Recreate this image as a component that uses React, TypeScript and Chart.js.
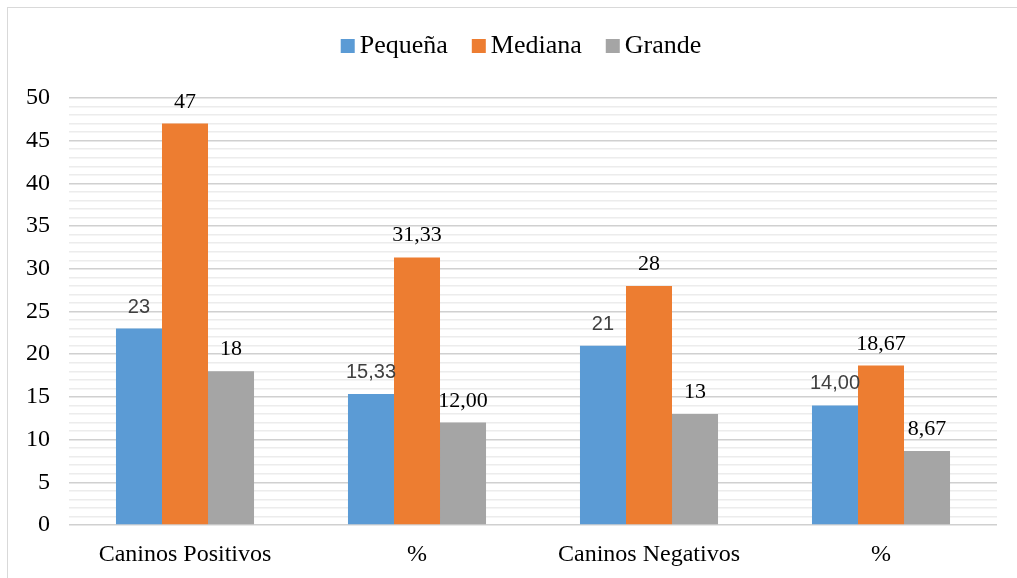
import React, { useEffect, useRef } from "react";
import { Chart, registerables } from "chart.js";

Chart.register(...registerables);

const categories = ["Caninos Positivos", "%", "Caninos Negativos", "%"];
const seriesNames = ["Pequeña", "Mediana", "Grande"];
const pequena = [23, 15.33, 21, 14.0];
const mediana = [47, 31.33, 28, 18.67];
const grande = [18, 12.0, 13, 8.67];
const valueLabels = [
  ["23", "15,33", "21", "14,00"],
  ["47", "31,33", "28", "18,67"],
  ["18", "12,00", "13", "8,67"],
];
const colors = ["#5B9BD5", "#ED7D31", "#A5A5A5"];
const yMin = 0;
const yMax = 50;

const SERIF = "'Liberation Serif', 'Times New Roman', serif";
const SANS = "'Liberation Sans', Arial, sans-serif";

// Writes each bar's value above it; the first series uses a sans face in dark grey.
const valueLabelPlugin = {
  id: "valueLabels",
  afterDatasetsDraw(chart: any) {
    const ctx = chart.ctx;
    ctx.save();
    ctx.textAlign = "center";
    ctx.textBaseline = "alphabetic";
    chart.data.datasets.forEach((_: any, di: number) => {
      const meta = chart.getDatasetMeta(di);
      meta.data.forEach((bar: any, i: number) => {
        if (di === 0) {
          ctx.font = `20px ${SANS}`;
          ctx.fillStyle = "#404040";
        } else {
          ctx.font = `22px ${SERIF}`;
          ctx.fillStyle = "#000000";
        }
        ctx.fillText(valueLabels[di][i], bar.x, bar.y - 16);
      });
    });
    ctx.restore();
  },
};

// Legend row of square swatches drawn across the top.
const legendPlugin = {
  id: "squareLegend",
  afterDraw(chart: any) {
    const ctx = chart.ctx;
    ctx.save();
    ctx.font = `26px ${SERIF}`;
    ctx.textBaseline = "alphabetic";
    ctx.textAlign = "left";
    const box = 14;
    const gap = 5;
    const itemGap = 24;
    const widths = seriesNames.map((n) => box + gap + ctx.measureText(n).width);
    const total = widths.reduce((a, b) => a + b, 0) + itemGap * (seriesNames.length - 1);
    let x = 521 - total / 2;
    const baseline = 53;
    seriesNames.forEach((name, i) => {
      ctx.fillStyle = colors[i];
      ctx.fillRect(x, baseline - box, box, box);
      ctx.fillStyle = "#000000";
      ctx.fillText(name, x + box + gap, baseline);
      x += widths[i] + itemGap;
    });
    ctx.restore();
  },
};

function BarChart() {
  const canvasRef = useRef<HTMLCanvasElement | null>(null);

  useEffect(() => {
    if (!canvasRef.current) return;
    const chart = new Chart(canvasRef.current, {
      type: "bar",
      data: {
        labels: categories,
        datasets: [pequena, mediana, grande].map((d, i) => ({
          label: seriesNames[i],
          data: d,
          backgroundColor: colors[i],
          borderWidth: 0,
          categoryPercentage: 0.595,
          barPercentage: 1,
        })),
      },
      options: {
        animation: false,
        responsive: false,
        maintainAspectRatio: false,
        layout: { padding: { top: 98, right: 20, bottom: 0, left: 0 } },
        plugins: {
          legend: { display: false },
          tooltip: { enabled: false },
        },
        scales: {
          x: {
            grid: { display: false, drawTicks: false },
            border: { display: false },
            ticks: {
              font: { family: SERIF, size: 24 },
              color: "#000000",
              padding: 15,
              maxRotation: 0,
            },
            afterFit(scale: any) {
              scale.height = 53;
            },
          },
          y: {
            min: yMin,
            max: yMax,
            grid: {
              drawTicks: false,
              color: (c: any) => (c.tick && c.tick.value % 5 === 0 ? "#d0d0d0" : "#ececec"),
              lineWidth: 1.5,
            },
            border: { display: false },
            ticks: {
              stepSize: 1,
              autoSkip: false,
              font: { family: SERIF, size: 24 },
              color: "#000000",
              padding: 19,
              callback: (v: any) => (Number(v) % 5 === 0 ? String(v) : ""),
            },
            afterFit(scale: any) {
              scale.width = 69;
            },
          },
        },
      },
      plugins: [valueLabelPlugin, legendPlugin],
    });
    return () => chart.destroy();
  }, []);

  return (
    <div style={{ position: "fixed", left: 0, top: 0, width: 1017, height: 578, background: "#ffffff", overflow: "hidden" }}>
      <div
        style={{
          position: "absolute",
          left: 7,
          top: 7,
          width: 1040,
          height: 600,
          border: "1.5px solid #d9d9d9",
          pointerEvents: "none",
        }}
      />
      <canvas ref={canvasRef} width={1017} height={578} style={{ position: "absolute", left: 0, top: 0 }} />
    </div>
  );
}

export default function App() {
  return <BarChart />;
}
